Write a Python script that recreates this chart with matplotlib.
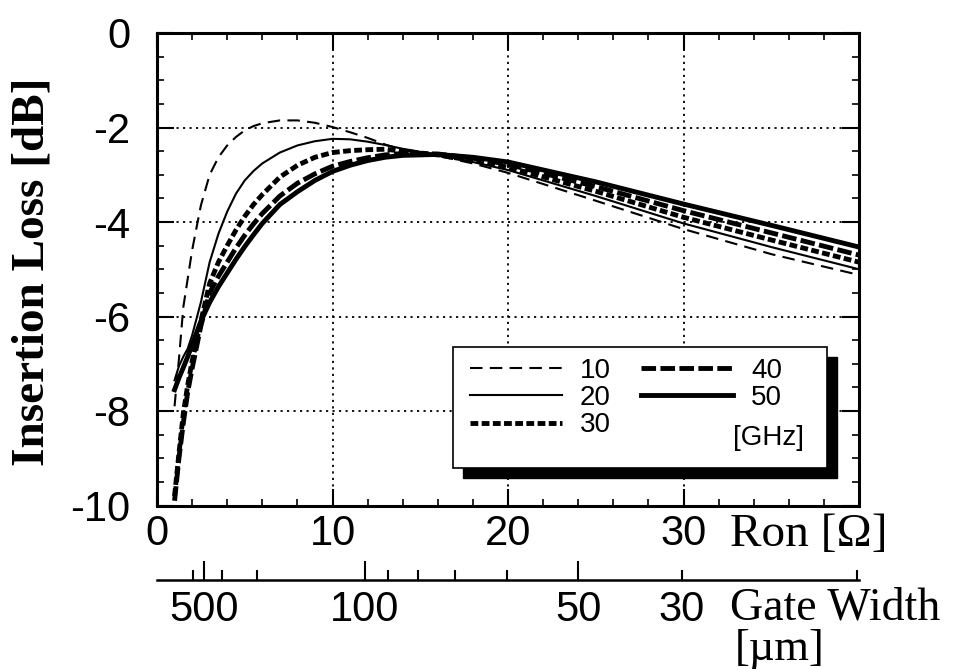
import matplotlib
matplotlib.use("Agg")
import matplotlib.pyplot as plt
from matplotlib.patches import Rectangle
from matplotlib.ticker import MultipleLocator

plt.rcParams['font.family'] = ['Liberation Sans', 'DejaVu Sans']
plt.rcParams['axes.unicode_minus'] = False

# Ron [ohm] sample points
ron = [1, 1.25, 1.5, 1.75, 2, 2.5, 3, 3.5, 4, 4.5, 5, 5.5, 6, 7, 8, 9, 10,
       11, 12, 13, 14, 16, 18, 20, 25, 30, 35, 40]

# insertion loss [dB] per frequency
loss_10 = [-7.9, -6.9, -5.8, -5.2, -4.6, -3.65, -3.0, -2.63, -2.38, -2.2, -2.06, -1.97, -1.91,
           -1.85, -1.85, -1.9, -1.99, -2.1, -2.22, -2.36, -2.48, -2.6, -2.76, -2.96, -3.55,
           -4.15, -4.68, -5.12]
loss_20 = [-7.35, -7.05, -6.85, -6.68, -6.4, -5.7, -4.85, -4.25, -3.78, -3.4, -3.12, -2.92, -2.76,
           -2.53, -2.38, -2.29, -2.24, -2.25, -2.3, -2.37, -2.45, -2.58, -2.73, -2.9, -3.45,
           -4.03, -4.53, -5.0]
loss_30 = [-9.8, -8.9, -8.05, -7.45, -6.95, -6.1, -5.3, -4.85, -4.5, -4.17, -3.88, -3.63, -3.42,
           -3.05, -2.8, -2.63, -2.53, -2.49, -2.47, -2.46, -2.5, -2.58, -2.7, -2.84, -3.35,
           -3.9, -4.38, -4.85]
loss_40 = [-9.9, -9.0, -8.25, -7.6, -7.1, -6.2, -5.5, -5.15, -4.85, -4.55, -4.28, -4.04, -3.82,
           -3.45, -3.18, -2.98, -2.82, -2.72, -2.64, -2.58, -2.55, -2.56, -2.65, -2.78, -3.25,
           -3.76, -4.23, -4.7]
loss_50 = [-7.55, -7.3, -7.08, -6.85, -6.6, -6.1, -5.7, -5.37, -5.08, -4.79, -4.52, -4.27, -4.03,
           -3.63, -3.36, -3.12, -2.93, -2.8, -2.7, -2.63, -2.59, -2.57, -2.63, -2.73, -3.15,
           -3.62, -4.07, -4.53]
freq_labels = ["10", "20", "30", "40", "50"]

# gate width scale, positions given in Ron
gate_major_ron = [2.68, 11.85, 24.0]
gate_major_labels = ["500", "100", "50"]
gate_minor_ron = [2.05, 3.7, 5.7, 13.16, 14.87, 16.98, 19.94, 29.9, 39.9]
gate_minor_labels = ["", "", "", "", "", "", "", "30", ""]

W, H = 955, 670
fig = plt.figure(figsize=(9.55, 6.7), dpi=100)
ax = fig.add_axes([157 / W, 1 - 505.5 / H, 702 / W, 472.5 / H])

series = [loss_10, loss_20, loss_30, loss_40, loss_50]
styles = [
    dict(lw=1.5, dashes=(6.0, 3.5)),
    dict(lw=1.5),
    dict(lw=3.5, dashes=(1.6, 0.7)),
    dict(lw=3.5, dashes=(3.0, 0.9)),
    dict(lw=3.5),
]
lines = [None] * 5
for i in [4, 3, 2, 1, 0]:
    lines[i], = ax.plot(ron, series[i], color='black', zorder=3 + (4 - i) * 0.1,
                        **styles[i])

ax.set_xlim(0, 40)
ax.set_ylim(-10, 0)
ax.set_xticks([0, 10, 20, 30])
ax.set_yticks([0, -2, -4, -6, -8, -10])
ax.xaxis.set_minor_locator(MultipleLocator(2))
ax.yaxis.set_minor_locator(MultipleLocator(0.5))
ax.tick_params(which='both', direction='in', top=True, right=True, colors='black')
ax.tick_params(which='major', length=12, width=1.5, labelsize=30)
ax.tick_params(which='minor', length=5, width=1.2)
ax.tick_params(axis='x', which='major', pad=6)
ax.tick_params(axis='y', which='major', pad=19)
for s in ax.spines.values():
    s.set_linewidth(2.2)
ax.grid(which='major', color='black', linestyle=(0, (1.2, 2.4)), lw=1.3)

fig.text(33 / W, 1 - 271.5 / H, "Insertion Loss [dB]", rotation=90, ha='center',
         va='center', fontsize=34, fontweight='bold', family='Liberation Serif')
fig.text(730 / W, 1 - 546 / H, "Ron [\u03a9]", ha='left', va='baseline',
         fontsize=34, family='Liberation Serif')

# legend with shadowed box
shadow = Rectangle((0.4217 + 0.01425, 0.079 - 0.0212), 0.5322, 0.2564,
                   transform=ax.transAxes, fc='black', ec='black', zorder=7)
box = Rectangle((0.4217, 0.079), 0.5322, 0.2564, transform=ax.transAxes,
                fc='white', ec='black', lw=1.2, zorder=8)
ax.add_patch(shadow)
ax.add_patch(box)
leg = ax.legend(lines, freq_labels, ncol=2, frameon=False, loc='upper left',
                bbox_to_anchor=(0.4459, 0.3132), borderpad=0, borderaxespad=0,
                fontsize=20, handlelength=3.3, handletextpad=0.65,
                columnspacing=1.1, labelspacing=0.05)
leg.set_zorder(10)
ax.text(0.8205, 0.1429, "[GHz]", transform=ax.transAxes, fontsize=20,
        ha='left', va='center', zorder=11)

# gate width axis
ax2 = fig.add_axes([157 / W, 1 - 580 / H, 702 / W, 0.02])
ax2.set_xlim(0, 40)
ax2.patch.set_visible(False)
for k in ['top', 'left', 'right']:
    ax2.spines[k].set_visible(False)
ax2.spines['bottom'].set_linewidth(1.8)
ax2.set_yticks([])
ax2.set_xticks(gate_major_ron, labels=gate_major_labels)
ax2.set_xticks(gate_minor_ron, labels=gate_minor_labels, minor=True)
ax2.tick_params(which='both', direction='in', labelsize=30, pad=7, colors='black')
ax2.tick_params(which='major', length=14, width=1.5)
ax2.tick_params(which='minor', length=7, width=1.5)

fig.text(730 / W, 1 - 620 / H, "Gate Width", ha='left', va='baseline',
         fontsize=33, family='Liberation Serif')
fig.text(735 / W, 1 - 660 / H, "[\u00b5m]", ha='left', va='baseline',
         fontsize=32, family='Liberation Serif')

plt.savefig("out.png", dpi=100)
